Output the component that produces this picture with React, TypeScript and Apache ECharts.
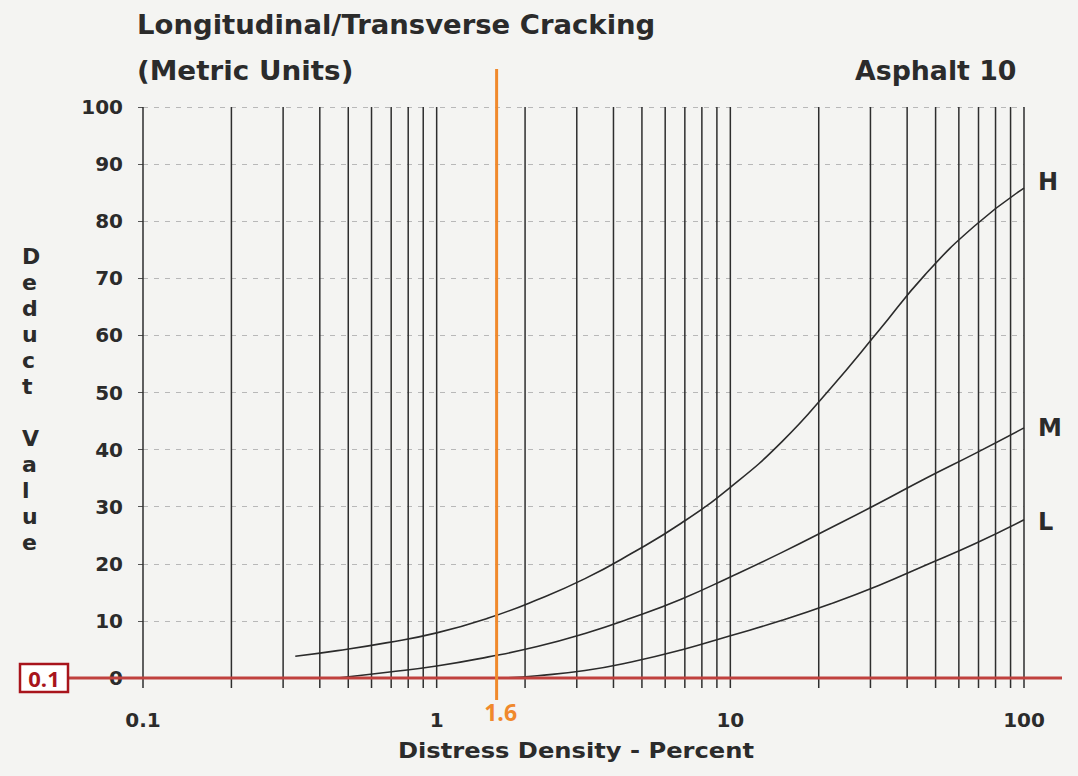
import React, { useEffect, useRef } from 'react';
import * as echarts from 'echarts';

// ---- data ----
const xTickLabels = ['0.1', '1', '10', '100'];
const yTicks = [0, 10, 20, 30, 40, 50, 60, 70, 80, 90, 100];
const gridX = [0.1, 0.2, 0.3, 0.4, 0.5, 0.6, 0.7, 0.8, 0.9, 1, 2, 3, 4, 5, 6, 7, 8, 9, 10, 20, 30, 40, 50, 60, 70, 80, 90, 100];

const curveH = [
  [0.33, 3.8], [0.46, 4.8], [0.68, 6.2], [1, 7.9], [1.5, 10.5], [2.2, 13.7], [3.2, 17.4], [4.6, 21.8],
  [6.8, 27.1], [10, 33.4], [15, 41.4], [22, 50.8], [32, 60.8], [46, 70.6], [68, 79.2], [100, 85.8],
];
const curveM = [
  [0.46, 0], [0.68, 1.0], [1, 2.1], [1.5, 3.7], [2.2, 5.5], [3.2, 7.8], [4.6, 10.5], [6.8, 13.8],
  [10, 17.7], [15, 22.0], [22, 26.3], [32, 30.6], [46, 34.9], [68, 39.3], [100, 43.8],
];
const curveL = [
  [1.7, 0], [2.2, 0.4], [3.2, 1.3], [4.6, 2.8], [6.8, 4.9], [10, 7.4], [15, 10.1], [22, 13.0],
  [32, 16.2], [46, 19.7], [68, 23.5], [100, 27.7],
];
const markerDensity = [1.6];
const markerDeduct = [0];
const markerDeductLabel = '0.1';

const FONT = "'DejaVu Sans', sans-serif";
const INK = '#2b2b2b';
const ORANGE = '#F0892C';
const RED = '#C0413E';

export default function App() {
  const ref = useRef<HTMLDivElement>(null);
  useEffect(() => {
    document.body.style.margin = '0';
    const chart = echarts.init(ref.current!, null, { renderer: 'svg' });
    const curveSeries = (name: string, data: number[][], offY: number) => ({
      name,
      type: 'line',
      data,
      smooth: 0.5,
      symbol: 'none',
      z: 3,
      lineStyle: { color: INK, width: 1.6 },
      endLabel: {
        show: true,
        formatter: '{a}',
        distance: 14,
        offset: [0, offY],
        color: INK,
        fontFamily: FONT,
        fontWeight: 'bold',
        fontSize: 24,
      },
    });
    chart.setOption({
      animation: false,
      backgroundColor: '#f4f4f2',
      grid: { left: 143, right: 54, top: 107, bottom: 98, containLabel: false },
      xAxis: {
        type: 'log',
        logBase: 10,
        min: 0.1,
        max: 100,
        axisLine: { show: false },
        axisTick: { show: false },
        splitLine: { show: false },
        axisLabel: {
          margin: 32,
          color: INK,
          fontFamily: FONT,
          fontWeight: 'bold',
          fontSize: 20,
          formatter: (v: number) => {
            const i = Math.round(Math.log10(v)) + 1;
            return xTickLabels[i] ?? String(v);
          },
        },
      },
      yAxis: {
        type: 'value',
        min: yTicks[0],
        max: yTicks[yTicks.length - 1],
        interval: 10,
        axisLine: { show: false },
        axisTick: { show: true, length: 5, lineStyle: { color: '#555' } },
        splitLine: { show: true, lineStyle: { color: '#b8b8b8', type: [5, 6], width: 1 } },
        axisLabel: {
          margin: 20,
          color: INK,
          fontFamily: FONT,
          fontWeight: 'bold',
          fontSize: 20,
        },
      },
      graphic: [
        {
          type: 'text', x: 137, y: 12, scaleX: 1.057,
          style: { text: 'Longitudinal/Transverse Cracking', font: `bold 26px ${FONT}`, fill: INK },
        },
        {
          type: 'text', x: 137, y: 58, scaleX: 1.07,
          style: { text: '(Metric Units)', font: `bold 26px ${FONT}`, fill: INK },
        },
        {
          type: 'text', x: 855, y: 58, scaleX: 1.03,
          style: { text: 'Asphalt 10', font: `bold 26px ${FONT}`, fill: INK },
        },
        {
          type: 'text', x: 398, y: 739, scaleX: 1.1,
          style: { text: 'Distress Density - Percent', font: `bold 22px ${FONT}`, fill: INK },
        },
        {
          type: 'text', left: 22, top: 243,
          style: {
            text: 'D\ne\nd\nu\nc\nt\n\nV\na\nl\nu\ne',
            font: `bold 22px ${FONT}`,
            fill: INK,
            lineHeight: 26,
            align: 'center',
            width: 22,
          },
        },
      ],
      series: [
        {
          name: 'grid',
          type: 'custom',
          z: 1,
          data: gridX.map((v) => [v, 0]),
          encode: { x: 0, y: 1 },
          renderItem: (params: any, api: any) => {
            const x = api.value(0);
            const top = api.coord([x, 100]);
            const bot = api.coord([x, 0]);
            return {
              type: 'line',
              shape: { x1: top[0], y1: top[1], x2: bot[0], y2: bot[1] + 10 },
              style: { stroke: '#2e2e2e', lineWidth: 1.5 },
            };
          },
          silent: true,
        },
        curveSeries('H', curveH, -6),
        curveSeries('M', curveM, 0),
        curveSeries('L', curveL, 2),
        {
          name: 'deductMarker',
          type: 'custom',
          z: 5,
          clip: false,
          data: markerDeduct.map((v) => [0.1, v]),
          encode: { x: 0, y: 1 },
          renderItem: (params: any, api: any) => {
            const p0 = api.coord([0.1, api.value(1)]);
            const p1 = api.coord([100, api.value(1)]);
            return {
              type: 'group',
              children: [
                {
                  type: 'line',
                  shape: { x1: p0[0] - 75, y1: p0[1], x2: p1[0] + 38, y2: p1[1] },
                  style: { stroke: RED, lineWidth: 3 },
                },
                {
                  type: 'rect',
                  shape: { x: p0[0] - 123, y: p0[1] - 14, width: 48, height: 28 },
                  style: { fill: '#ffffff', stroke: '#A8141C', lineWidth: 2.5 },
                },
                {
                  type: 'text',
                  x: p0[0] - 99,
                  y: p0[1],
                  style: {
                    text: markerDeductLabel,
                    font: `bold 22px 'Open Sans', ${FONT}`,
                    fill: '#A8141C',
                    align: 'center',
                    verticalAlign: 'middle',
                  },
                },
              ],
            };
          },
          silent: true,
        },
        {
          name: 'densityMarker',
          type: 'custom',
          z: 6,
          clip: false,
          data: markerDensity.map((v) => [v, 0]),
          encode: { x: 0, y: 1 },
          renderItem: (params: any, api: any) => {
            const x = api.value(0);
            const top = api.coord([x, 100]);
            const bot = api.coord([x, 0]);
            return {
              type: 'group',
              children: [
                {
                  type: 'line',
                  shape: { x1: top[0], y1: top[1] - 38, x2: bot[0], y2: bot[1] + 22 },
                  style: { stroke: ORANGE, lineWidth: 3 },
                },
                {
                  type: 'text',
                  x: bot[0] + 4,
                  y: bot[1] + 34,
                  style: {
                    text: String(x),
                    font: `bold 23px 'Open Sans', ${FONT}`,
                    fill: ORANGE,
                    align: 'center',
                    verticalAlign: 'middle',
                  },
                },
              ],
            };
          },
          silent: true,
        },
      ],
    });
    return () => chart.dispose();
  }, []);
  return <div ref={ref} style={{ position: 'fixed', left: 0, top: 0, width: 1078, height: 776 }} />;
}
